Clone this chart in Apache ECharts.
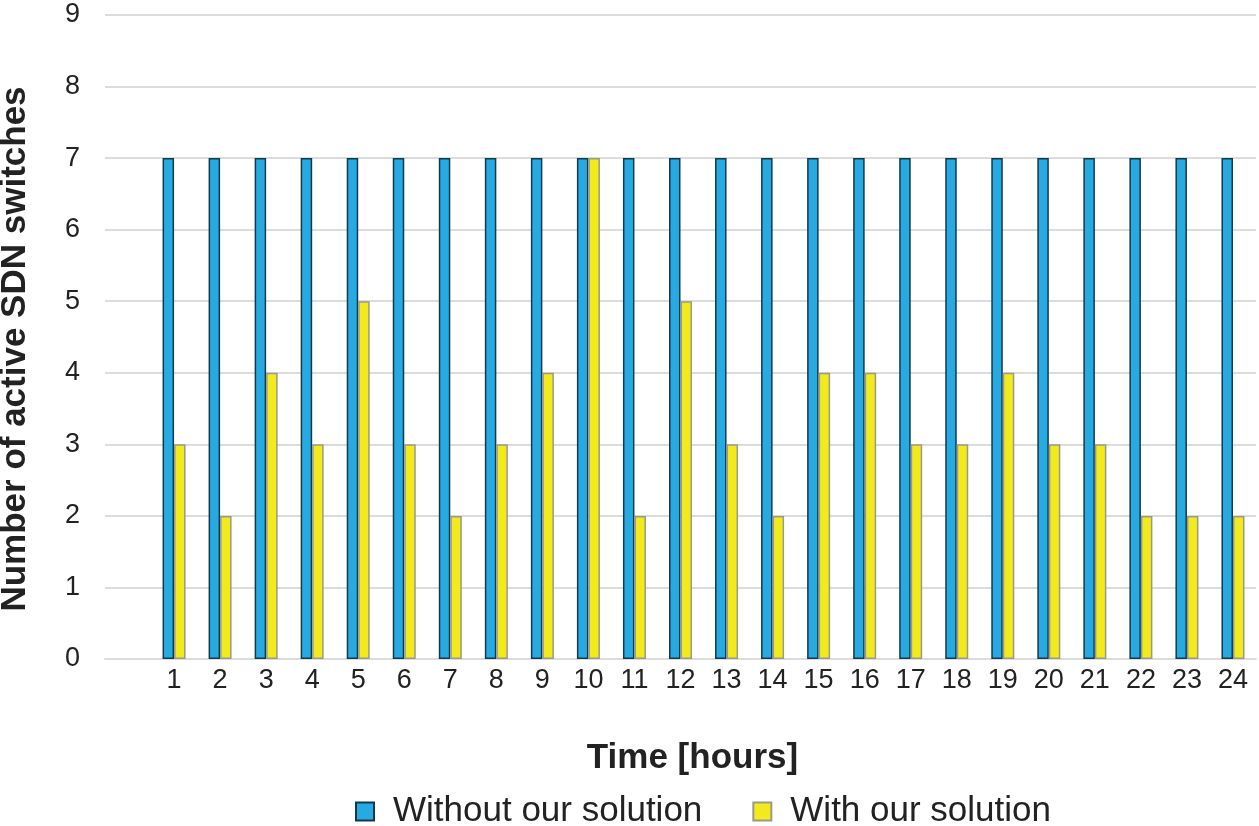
<!DOCTYPE html>
<html>
<head>
    <meta charset="UTF-8">
    <title>Active SDN switches</title>
    <script src="https://cdn.jsdelivr.net/npm/echarts@6/dist/echarts.min.js"></script>
    <style>
        html, body { margin: 0; padding: 0; background: #fff; }
        #main { width: 1259px; height: 826px; }
    </style>
</head>
<body>
<div id="main"></div>
<script type="text/javascript">
    // hours on the x axis
    var hours = ['1','2','3','4','5','6','7','8','9','10','11','12',
                 '13','14','15','16','17','18','19','20','21','22','23','24'];
    var withoutSolution = [7,7,7,7,7,7,7,7,7,7,7,7,7,7,7,7,7,7,7,7,7,7,7,7];
    var withSolution    = [3,2,4,3,5,3,2,3,4,7,2,5,3,2,4,4,3,3,4,3,3,2,2,2];
    var yTicks = [0,1,2,3,4,5,6,7,8,9];

    var font = '"Liberation Sans", Arial, Helvetica, sans-serif';

    // leading blank slot so the gridlines reach further left than the first bar
    var cats = [''].concat(hours);
    var s1 = [null].concat(withoutSolution);
    var s2 = [null].concat(withSolution);

    var myChart = echarts.init(document.getElementById('main'));

    var option = {
        animation: false,
        textStyle: { fontFamily: font },
        grid: { left: 105, right: 3, top: 15, bottom: 167, containLabel: false, outerBoundsMode: 'none' },
        legend: {
            top: 789,
            left: 350,
            icon: 'rect',
            itemWidth: 18,
            itemHeight: 18,
            itemGap: 50,
            textStyle: { fontSize: 35, color: '#222', fontFamily: font, padding: [0, 0, 0, 14] },
            data: ['Without our solution', 'With our solution']
        },
        xAxis: {
            type: 'category',
            data: cats,
            axisLine: { lineStyle: { color: '#dcdcdc', width: 2 } },
            axisTick: { show: false },
            axisLabel: { fontSize: 27, color: '#222', margin: 8, interval: 0 },
            name: 'Time [hours]',
            nameLocation: 'middle',
            nameGap: 82,
            nameTextStyle: { fontSize: 35, fontWeight: 'bold', color: '#222', padding: [0, 0, 0, 24] }
        },
        yAxis: {
            type: 'value',
            min: yTicks[0],
            max: yTicks[yTicks.length - 1],
            interval: 1,
            axisLine: { show: false },
            axisTick: { show: false },
            splitLine: { lineStyle: { color: '#dcdcdc', width: 2 } },
            axisLabel: { fontSize: 27, color: '#222', margin: 25 },
            name: 'Number of active SDN switches',
            nameLocation: 'middle',
            nameGap: 72,
            nameTextStyle: { fontSize: 35, fontWeight: 'bold', color: '#222', padding: [0, 24, 0, 0] }
        },
        series: [
            {
                name: 'Without our solution',
                type: 'bar',
                data: s1,
                barWidth: 11.5,
                barGap: '0%',
                itemStyle: { color: '#27aae1', borderColor: '#123a4c', borderWidth: 1.5 }
            },
            {
                name: 'With our solution',
                type: 'bar',
                data: s2,
                barWidth: 11.5,
                barGap: '0%',
                itemStyle: { color: '#f2ea1c', borderColor: '#9a9a8a', borderWidth: 1.5 }
            }
        ]
    };

    myChart.setOption(option);
</script>
</body>
</html>
